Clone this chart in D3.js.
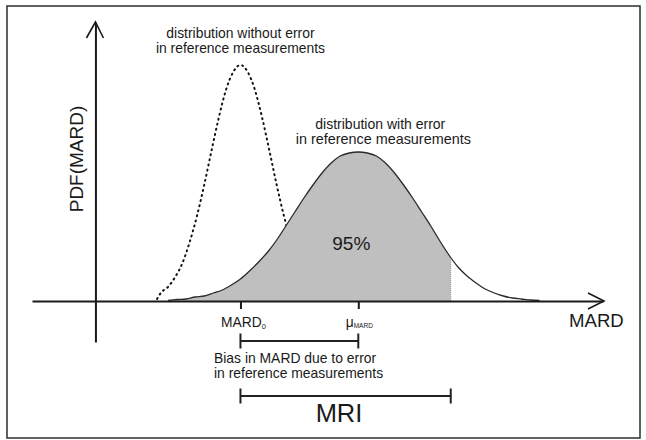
<!DOCTYPE html>
<html>
<head>
<meta charset="utf-8">
<script src="https://cdn.jsdelivr.net/npm/d3@7"></script>
<style>
	body { margin: 0; background: #fff; }
	text { font-family: "Liberation Sans", Arial, sans-serif; fill: #1a1a1a; }
</style>
</head>
<body>
<div id="chart"></div>
<script>

//----------------------------
// Data
//----------------------------

// distribution without error in reference measurements (dotted)
var refX = [3.4, 3.6, 4.0, 4.4, 4.8, 5.2, 5.6, 6.0, 6.4, 6.8, 7.2, 7.6, 8.0,
	8.4, 8.8, 9.2, 9.6, 10.0, 10.4, 10.8, 11.2];
var refPdf = [0.002, 0.008, 0.014, 0.024, 0.038, 0.059, 0.085, 0.116, 0.150, 0.183, 0.211, 0.229, 0.236,
	0.229, 0.211, 0.183, 0.150, 0.116, 0.085, 0.059, 0.038];

// distribution with error in reference measurements (grey)
var errX = [4.0, 4.5, 5.0, 5.5, 6.0, 6.5, 7.0, 7.5, 8.0, 8.5, 9.0, 9.5, 10.0, 10.5, 11.0, 11.5,
	12.0, 12.5, 13.0, 13.5, 14.0, 14.5, 15.0, 15.5, 16.0, 16.5, 17.0, 17.5, 18.0, 18.5,
	19.0, 19.5, 20.0, 20.5, 21.0, 21.5, 22.0, 22.5, 23.0, 23.5, 24.0, 24.5];
var errPdf = [0.0005, 0.0015, 0.002, 0.004, 0.005, 0.008, 0.011, 0.016, 0.022, 0.030, 0.039, 0.049, 0.061, 0.075, 0.089, 0.103,
	0.116, 0.128, 0.138, 0.145, 0.148, 0.149, 0.148, 0.145, 0.138, 0.128, 0.116, 0.103, 0.089, 0.075,
	0.060, 0.046, 0.034, 0.025, 0.018, 0.012, 0.008, 0.005, 0.003, 0.002, 0.001, 0.0005];

// reference marks on the MARD axis
var mard0 = 8.0;
var muMard = 14.5;
var cut95 = [19.6, 0.043];   // upper 95% limit and pdf there
var biasRange = [mard0, muMard];
var mriRange = [mard0, cut95[0]];

// axis extents
var xLim = [-3.5, 28];
var yLim = [-0.041, 0.279];

//----------------------------
// Canvas and scales
//----------------------------

var totwidth = 646,
	totheight = 440;

var svg = d3.select("#chart").append("svg")
	.attr("width", totwidth)
	.attr("height", totheight);

var x = d3.scaleLinear().domain(xLim).range([32, 603]);
var y = d3.scaleLinear().domain(yLim).range([342, 22]);

// frame round the whole figure
svg.append("rect")
	.attr("x", 7)
	.attr("y", 6)
	.attr("width", 633)
	.attr("height", 432)
	.attr("fill", "none")
	.attr("stroke", "#3a3a3a")
	.attr("stroke-width", 1.6);

var refData = refX.map(function(d, i) { return {x: d, y: refPdf[i]}; });
var errData = errX.map(function(d, i) { return {x: d, y: errPdf[i]}; });

var line = d3.line()
	.x(function(d) { return x(d.x); })
	.y(function(d) { return y(d.y); })
	.curve(d3.curveMonotoneX);

var area = d3.area()
	.x(function(d) { return x(d.x); })
	.y0(y(0))
	.y1(function(d) { return y(d.y); })
	.curve(d3.curveMonotoneX);

// dotted curve goes underneath the grey area
svg.append("path")
	.datum(refData)
	.attr("d", line)
	.attr("fill", "none")
	.attr("stroke", "#111")
	.attr("stroke-width", 2)
	.attr("stroke-linecap", "round")
	.attr("stroke-dasharray", "1,4.2");

// shaded 95% part, clipped at the upper limit
svg.append("clipPath")
	.attr("id", "clip95")
	.append("rect")
	.attr("x", 0)
	.attr("y", 0)
	.attr("width", x(cut95[0]))
	.attr("height", y(0));

svg.append("path")
	.datum(errData)
	.attr("d", area)
	.attr("clip-path", "url(#clip95)")
	.attr("fill", "#bfbfbf");

svg.append("path")
	.datum(errData)
	.attr("d", line)
	.attr("fill", "none")
	.attr("stroke", "#2a2a2a")
	.attr("stroke-width", 1.3);

svg.append("line")
	.attr("x1", x(cut95[0]))
	.attr("x2", x(cut95[0]))
	.attr("y1", y(0))
	.attr("y2", y(cut95[1]))
	.attr("stroke", "#999")
	.attr("stroke-width", 1)
	.attr("stroke-dasharray", "1,1");

//----------------------------
// Axes with open arrow heads
//----------------------------

var xAxis = d3.axisBottom(x)
	.tickValues([mard0, muMard])
	.tickSize(8)
	.tickSizeOuter(0)
	.tickFormat("");

var yAxis = d3.axisLeft(y)
	.tickValues([])
	.tickSizeOuter(0);

var gx = svg.append("g")
	.attr("transform", "translate(0," + y(0) + ")")
	.call(xAxis);
gx.select(".domain").attr("stroke", "#1a1a1a").attr("stroke-width", 2);
gx.selectAll(".tick line").attr("stroke", "#1a1a1a").attr("stroke-width", 2);

var gy = svg.append("g")
	.attr("transform", "translate(" + x(0) + ",0)")
	.call(yAxis);
gy.select(".domain").attr("stroke", "#1a1a1a").attr("stroke-width", 2);

svg.append("path")
	.attr("d", "M" + (x(xLim[1]) - 15) + "," + (y(0) - 8) + "L" + (x(xLim[1]) + 1) + "," + y(0) +
		"L" + (x(xLim[1]) - 15) + "," + (y(0) + 8))
	.attr("fill", "none")
	.attr("stroke", "#1a1a1a")
	.attr("stroke-width", 1.6);

svg.append("path")
	.attr("d", "M" + (x(0) - 9) + "," + (y(yLim[1]) + 16) + "L" + x(0) + "," + y(yLim[1]) +
		"L" + (x(0) + 8) + "," + (y(yLim[1]) + 16))
	.attr("fill", "none")
	.attr("stroke", "#1a1a1a")
	.attr("stroke-width", 1.6);

//----------------------------
// Range bars (bias and MRI)
//----------------------------

function rangeBar(r, ypos, half) {
	var g = svg.append("g")
		.attr("stroke", "#222")
		.attr("stroke-width", 2);
	g.append("line")
		.attr("x1", x(r[0])).attr("x2", x(r[1]))
		.attr("y1", ypos).attr("y2", ypos);
	r.forEach(function(v) {
		g.append("line")
			.attr("x1", x(v)).attr("x2", x(v))
			.attr("y1", ypos - half).attr("y2", ypos + half);
	});
}

rangeBar(biasRange, 341, 7.5);
rangeBar(mriRange, 396, 7.5);

//----------------------------
// Labels
//----------------------------

function label(txt, px, py, size, anchor) {
	return svg.append("text")
		.attr("x", px)
		.attr("y", py)
		.attr("text-anchor", anchor || "middle")
		.attr("font-size", size)
		.text(txt);
}

label("distribution without error", x(mard0), 38, 13.9);
label("in reference measurements", x(mard0), 53, 13.9);

label("distribution with error", x(muMard) + 22, 129, 14);
label("in reference measurements", x(muMard) + 25, 144, 14.4);

label("95%", x(muMard) - 7, 250, 19);

label("MARD", 569, 327, 18.6, "start");

var t0 = label("MARD", x(mard0) + 3, 327, 13.8);
t0.append("tspan").attr("font-size", 7.5).attr("dy", 2).text("0");

var t1 = label("\u03bc", x(muMard) + 1, 327, 13.8);
t1.append("tspan").attr("font-size", 6.5).attr("dy", 1).text("MARD");

label("Bias in MARD due to error", 214, 363, 13.9, "start");
label("in reference measurements", 214, 378, 13.9, "start");

label("MRI", 339, 422, 25.5);

svg.append("text")
	.attr("transform", "translate(83,159) rotate(-90)")
	.attr("text-anchor", "middle")
	.attr("font-size", 19)
	.text("PDF(MARD)");

</script>
</body>
</html>
